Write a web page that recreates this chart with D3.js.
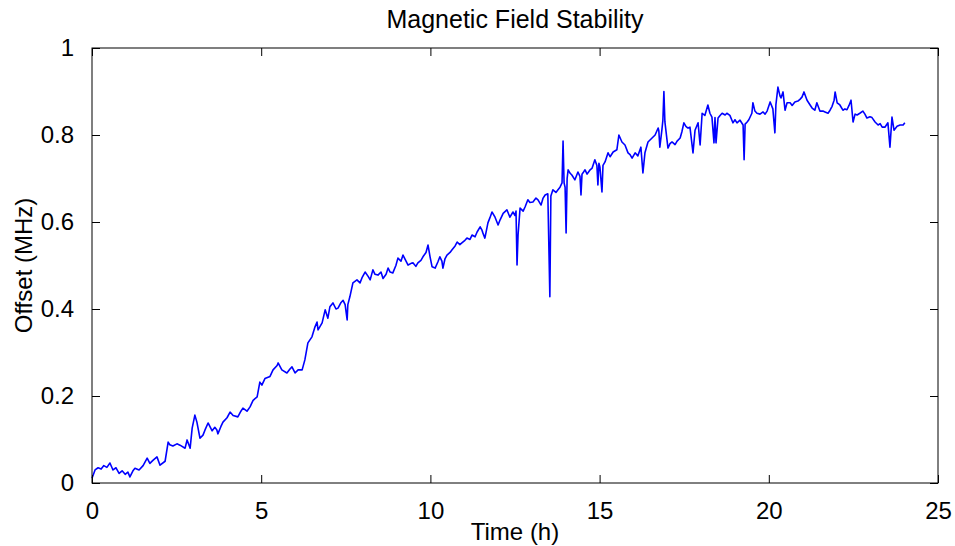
<!DOCTYPE html>
<html>
<head>
<meta charset="utf-8">
<script src="https://cdn.jsdelivr.net/npm/d3@7"></script>
<style>
  html, body { margin: 0; padding: 0; background: #fff; }
  svg text { font-family: "Liberation Sans", Arial, Helvetica, sans-serif; fill: #000; }
</style>
</head>
<body>
<svg id="chart" width="955" height="546"></svg>
<script>
// Elapsed time (hours) and measured field offset (MHz)
const timeHours = [
  0.00,0.09,0.18,0.27,0.35,0.44,0.53,0.62,0.71,0.80,0.89,0.98,1.06,1.12,1.21,1.27,1.39,1.51,1.63,1.71,
  1.80,1.92,2.01,2.16,2.25,2.30,2.39,2.51,2.60,2.75,2.81,2.90,2.96,3.04,3.10,3.19,3.28,3.34,3.43,3.55,
  3.63,3.69,3.72,3.81,3.87,3.99,4.08,4.17,4.31,4.40,4.46,4.58,4.67,4.76,4.88,4.96,5.02,5.11,5.26,5.35,
  5.47,5.50,5.61,5.76,5.85,5.91,6.00,6.09,6.21,6.29,
  6.38,6.50,6.59,6.65,6.68,6.80,6.89,6.97,7.03,7.12,7.21,7.27,7.36,7.42,7.48,7.54,7.56,7.62,7.71,7.83,
  7.92,7.98,8.07,8.16,8.22,8.30,8.36,8.45,8.54,8.60,8.69,8.75,8.81,8.89,8.98,9.04,9.13,9.19,9.28,9.34,
  9.43,9.49,9.57,9.63,9.72,9.78,9.87,9.93,9.99,10.05,10.14,10.22,10.28,10.34,10.37,10.43,10.49,10.58,10.64,10.73,
  10.79,10.87,10.93,11.02,11.08,11.17,11.23,11.32,11.38,11.47,11.52,11.55,11.61,
  11.70,11.76,11.82,11.91,12.00,12.06,12.15,12.26,12.35,12.44,12.50,12.53,12.56,12.59,12.65,12.74,12.80,12.88,12.94,13.03,
  13.12,13.18,13.27,13.33,13.39,13.47,13.53,13.56,13.62,13.71,13.77,13.83,13.89,13.92,13.95,13.98,14.01,14.04,14.07,14.13,
  14.18,14.27,14.36,14.42,14.45,14.48,14.51,14.57,14.63,14.72,14.78,14.86,14.92,14.95,14.98,15.01,15.07,15.10,15.16,15.25,
  15.31,15.40,15.51,15.57,15.66,15.75,15.84,15.90,15.96,16.05,16.13,16.22,16.28,16.34,16.43,16.55,16.64,16.73,16.75,16.78,
  16.84,16.87,16.90,16.93,17.02,17.08,17.14,17.23,17.29,17.38,17.43,17.49,17.55,17.61,17.67,17.76,17.82,17.91,17.97,18.03,
  18.11,18.20,18.26,18.32,18.38,18.41,18.44,18.50,18.56,18.62,18.71,18.76,18.85,18.94,19.00,19.06,19.15,19.24,19.27,19.30,
  19.36,19.41,19.50,19.53,19.59,19.65,19.74,19.83,19.89,19.95,20.04,20.12,20.18,20.21,20.27,20.33,20.36,20.42,20.48,20.54,
  20.63,20.69,20.77,20.86,20.92,20.98,21.04,21.13,21.22,21.28,21.36,21.42,21.51,21.60,21.66,21.75,21.81,21.87,21.93,21.96,
  22.02,22.10,22.19,22.25,22.31,22.37,22.43,22.49,22.55,22.61,22.69,22.78,22.84,22.90,22.99,23.05,23.14,23.23,23.29,23.35,
  23.43,23.52,23.58,23.64,23.70,23.79,23.88,23.97,24.02
];
const offsetMHz = [
  0.011,0.030,0.035,0.032,0.040,0.036,0.046,0.030,0.035,0.022,0.028,0.020,0.025,0.014,0.028,0.034,0.030,0.040,0.057,0.045,
  0.052,0.060,0.041,0.050,0.094,0.088,0.085,0.090,0.087,0.080,0.099,0.080,0.126,0.156,0.140,0.103,0.110,0.122,0.138,0.120,
  0.128,0.122,0.113,0.130,0.140,0.150,0.163,0.155,0.152,0.165,0.172,0.165,0.175,0.190,0.198,0.232,0.225,0.240,0.245,0.260,
  0.270,0.276,0.260,0.253,0.262,0.267,0.253,0.260,0.260,0.283,
  0.322,0.336,0.359,0.370,0.352,0.368,0.398,0.379,0.405,0.414,0.400,0.402,0.415,0.420,0.410,0.375,0.410,0.428,0.460,0.467,
  0.460,0.472,0.485,0.475,0.467,0.490,0.480,0.478,0.485,0.470,0.480,0.494,0.485,0.483,0.500,0.517,0.510,0.524,0.510,0.501,
  0.505,0.506,0.498,0.506,0.512,0.520,0.530,0.547,0.520,0.497,0.494,0.508,0.520,0.510,0.494,0.515,0.524,0.530,0.536,0.545,
  0.554,0.548,0.552,0.558,0.563,0.560,0.570,0.566,0.577,0.589,0.582,0.575,0.563,
  0.598,0.610,0.623,0.611,0.593,0.605,0.620,0.628,0.611,0.623,0.615,0.625,0.501,0.570,0.632,0.625,0.635,0.651,0.645,0.646,
  0.655,0.651,0.639,0.655,0.662,0.665,0.428,0.660,0.674,0.668,0.674,0.680,0.690,0.786,0.690,0.680,0.575,0.700,0.720,0.712,
  0.708,0.697,0.715,0.705,0.662,0.710,0.713,0.720,0.710,0.720,0.724,0.743,0.730,0.685,0.735,0.726,0.669,0.730,0.738,0.759,
  0.750,0.761,0.766,0.800,0.784,0.777,0.759,0.755,0.747,0.759,0.752,0.772,0.713,0.759,0.784,0.793,0.800,0.816,0.810,0.772,
  0.811,0.834,0.900,0.830,0.770,0.780,0.784,0.778,0.786,0.793,0.807,0.828,0.820,0.816,0.818,0.759,0.811,0.828,0.777,0.850,
  0.845,0.869,0.850,0.841,0.782,0.840,0.782,0.839,0.845,0.850,0.846,0.850,0.845,0.828,0.835,0.828,0.834,0.823,0.743,0.825,
  0.830,0.835,0.850,0.874,0.855,0.850,0.848,0.853,0.848,0.855,0.876,0.860,0.805,0.870,0.910,0.890,0.885,0.899,0.857,0.874,
  0.874,0.868,0.876,0.878,0.882,0.887,0.899,0.880,0.869,0.862,0.857,0.874,0.855,0.855,0.853,0.850,0.857,0.866,0.880,0.899,
  0.874,0.869,0.857,0.860,0.858,0.868,0.880,0.830,0.848,0.846,0.850,0.855,0.848,0.839,0.842,0.840,0.830,0.823,0.826,0.818,
  0.818,0.828,0.772,0.841,0.811,0.820,0.823,0.823,0.828
];
const xTicks = [0, 5, 10, 15, 20, 25];
const yTicks = [0, 0.2, 0.4, 0.6, 0.8, 1];

const W = 955, H = 546;
const margin = { top: 48, right: 17, bottom: 63, left: 92 };
const svg = d3.select("#chart");

const x = d3.scaleLinear().domain([0, 25]).range([margin.left, W - margin.right]);
const y = d3.scaleLinear().domain([0, 1]).range([H - margin.bottom, margin.top]);

const fmtY = v => (v === 0 || v === 1) ? String(v) : d3.format(".1f")(v);
const tickLen = 8;

// Trace
const points = timeHours.map((t, i) => [t, offsetMHz[i]]);
svg.append("path")
  .datum(points)
  .attr("fill", "none")
  .attr("stroke", "#0000ff")
  .attr("stroke-width", 1.6)
  .attr("stroke-linejoin", "round")
  .attr("d", d3.line().x(d => x(d[0])).y(d => y(d[1])));

// Axes with inward ticks on all four sides
const axisStyle = g => {
  g.select(".domain").remove();
  g.selectAll("line").attr("stroke", "#000").attr("stroke-width", 1);
  g.selectAll("text").attr("font-size", 24).attr("fill", "#000");
};

svg.append("g")
  .attr("transform", `translate(0,${y(0)})`)
  .call(d3.axisBottom(x).tickValues(xTicks).tickSize(-tickLen).tickPadding(tickLen + 11).tickFormat(d3.format("d")))
  .call(axisStyle)
  .call(g => g.selectAll("text").attr("font-family", "Liberation Sans, Arial, sans-serif"));

svg.append("g")
  .attr("transform", `translate(0,${y(1)})`)
  .call(d3.axisTop(x).tickValues(xTicks).tickSize(-tickLen).tickFormat(""))
  .call(axisStyle);

svg.append("g")
  .attr("transform", `translate(${x(0)},0)`)
  .call(d3.axisLeft(y).tickValues(yTicks).tickSize(-tickLen).tickPadding(tickLen + 10).tickFormat(fmtY))
  .call(axisStyle)
  .call(g => g.selectAll("text").attr("font-family", "Liberation Sans, Arial, sans-serif"));

svg.append("g")
  .attr("transform", `translate(${x(25)},0)`)
  .call(d3.axisRight(y).tickValues(yTicks).tickSize(-tickLen).tickFormat(""))
  .call(axisStyle);

// Box
svg.append("rect")
  .attr("x", x(0)).attr("y", y(1))
  .attr("width", x(25) - x(0)).attr("height", y(0) - y(1))
  .attr("fill", "none").attr("stroke", "#000").attr("stroke-width", 1);

// Labels
svg.append("text")
  .attr("x", (x(0) + x(25)) / 2).attr("y", 28)
  .attr("text-anchor", "middle").attr("font-size", 25)
  .text("Magnetic Field Stability");

svg.append("text")
  .attr("x", (x(0) + x(25)) / 2).attr("y", 540)
  .attr("text-anchor", "middle").attr("font-size", 24)
  .text("Time (h)");

svg.append("text")
  .attr("transform", `translate(32,${(y(0) + y(1)) / 2}) rotate(-90)`)
  .attr("text-anchor", "middle").attr("font-size", 24)
  .text("Offset (MHz)");
</script>
</body>
</html>
